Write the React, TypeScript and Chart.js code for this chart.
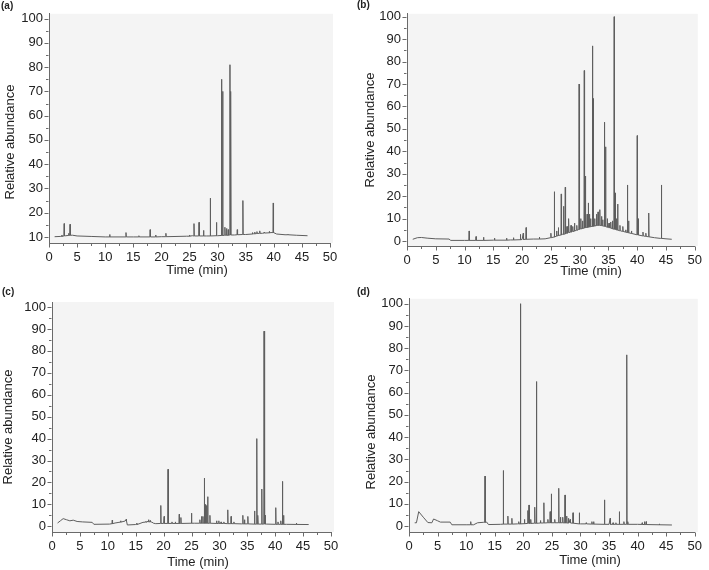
import React, { useEffect, useRef } from "react";
import { Chart, registerables } from "chart.js";

Chart.register(...registerables);

// ---------- shared ticks ----------
const xMajorTicks = [0, 5, 10, 15, 20, 25, 30, 35, 40, 45, 50];
const xMinorTicks = [2.5, 7.5, 12.5, 17.5, 22.5, 27.5, 32.5, 37.5, 42.5, 47.5];
const yMajorTicksA = [10, 20, 30, 40, 50, 60, 70, 80, 90, 100];
const yMinorTicksA = [15, 25, 35, 45, 55, 65, 75, 85, 95];
const yMajorTicks = [0, 10, 20, 30, 40, 50, 60, 70, 80, 90, 100];
const yMinorTicks = [5, 15, 25, 35, 45, 55, 65, 75, 85, 95];

const panelLabels = ["(a)", "(b)", "(c)", "(d)"];
const xTitle = "Time (min)";
const yTitle = "Relative abundance";

// ---------- panel (a) ----------
const aBaseTime = [1.0, 2.0, 3.0, 4.2, 5.0, 7.5, 10, 15, 20, 24.5, 25.5, 28, 30, 33, 35, 36.4, 38, 39.5, 40.5, 42, 44, 46];
const aBaseValue = [10.1, 10.2, 10.5, 10.7, 10.4, 10.2, 10.0, 10.0, 10.1, 10.3, 10.5, 10.4, 10.5, 10.8, 11.0, 11.3, 11.5, 11.8, 11.2, 10.9, 10.7, 10.5];
const aPeakTime = [2.3, 2.7, 3.5, 3.75, 10.8, 13.7, 16.0, 18.0, 19.0, 20.8, 25.0, 25.8, 26.7, 27.5, 28.7, 29.8, 30.7, 30.9, 31.3, 31.6, 31.9, 32.2, 32.35, 33.5, 34.5, 36.2, 36.6, 37.0, 37.5, 38.3, 39.2, 39.9, 42.5];
const aPeakTop = [10.8, 15.5, 11.5, 15.2, 11.0, 11.8, 10.5, 13.0, 10.8, 11.5, 10.8, 15.5, 16.0, 12.7, 26.0, 16.0, 75.0, 70.0, 14.0, 13.5, 13.0, 81.0, 70.0, 13.0, 25.0, 11.8, 12.0, 12.2, 12.5, 12.0, 12.3, 24.0, 11.2];
const aPeakFoot = [10.2, 10.4, 10.6, 10.7, 10.0, 10.0, 10.0, 10.0, 10.0, 10.1, 10.3, 10.4, 10.4, 10.4, 10.4, 10.5, 10.6, 10.6, 10.7, 10.7, 10.7, 10.8, 10.8, 10.9, 11.0, 11.2, 11.3, 11.4, 11.5, 11.6, 11.7, 11.8, 10.9];

// ---------- panel (b) ----------
const bBaseTime = [1.0, 1.8, 2.5, 3.5, 5, 7.3, 7.6, 10, 15, 18, 20, 22, 24, 25, 26, 27, 28, 29, 30, 31, 32, 33, 34, 35, 36, 37, 38, 39, 40, 41, 42, 43, 44, 45, 46];
const bBaseValue = [0.8, 1.5, 1.6, 1.3, 1.0, 0.9, 0.3, 0.3, 0.4, 0.5, 0.7, 0.9, 1.0, 1.5, 2.2, 3.0, 3.8, 4.5, 5.3, 6.0, 6.5, 7.0, 6.8, 6.0, 5.3, 4.6, 4.0, 3.4, 2.8, 2.3, 1.9, 1.5, 1.2, 1.0, 0.8];
const bPeakTime = [10.8, 12.0, 13.3, 15.2, 17.3, 18.5, 19.7, 20.2, 20.7, 23.0, 25.0, 25.6, 26.0, 26.3, 26.8, 27.2, 27.5, 27.8, 28.1, 28.5, 28.8, 29.1, 29.5, 29.9, 30.2, 30.5, 30.8, 31.0, 31.3, 31.5, 31.7, 31.9, 32.2, 32.35, 32.6, 32.9, 33.2, 33.5, 33.8, 34.0, 34.3, 34.5, 34.8, 35.1, 35.4, 35.7, 36.0, 36.2, 36.4, 36.6, 37.0, 37.5, 38.0, 38.3, 38.5, 39.0, 40.0, 40.2, 41.0, 41.5, 42.0, 44.2];
const bPeakTop = [4.5, 2.0, 1.7, 1.3, 1.3, 1.5, 3.0, 3.5, 6.0, 1.8, 3.5, 22.0, 4.5, 6.0, 21.0, 15.5, 24.0, 6.5, 10.0, 7.0, 6.5, 8.0, 7.0, 70.0, 10.0, 9.0, 76.0, 29.0, 12.0, 17.0, 12.0, 10.0, 87.0, 63.5, 10.0, 12.0, 13.0, 14.0, 11.0, 9.5, 53.0, 42.0, 10.0, 8.0, 8.5, 9.0, 100.0, 21.5, 10.0, 16.5, 7.0, 6.5, 5.0, 25.0, 9.0, 4.5, 47.0, 10.0, 4.0, 3.5, 12.5, 25.0];
const bPeakFoot = [0.3, 0.3, 0.3, 0.4, 0.4, 0.5, 0.6, 0.7, 0.8, 0.9, 1.5, 1.8, 2.2, 2.5, 2.7, 3.0, 3.2, 3.5, 3.8, 4.0, 4.3, 4.5, 4.8, 5.2, 5.4, 5.6, 5.8, 6.0, 6.1, 6.2, 6.3, 6.4, 6.5, 6.6, 6.7, 6.9, 7.0, 7.0, 6.9, 6.8, 6.6, 6.5, 6.2, 6.0, 5.8, 5.5, 5.3, 5.2, 5.0, 4.9, 4.6, 4.3, 4.0, 3.8, 3.7, 3.4, 2.8, 2.7, 2.3, 2.1, 1.9, 1.2];

// ---------- panel (c) ----------
const cBaseTime = [1.0, 1.5, 2.0, 2.6, 3.2, 3.8, 4.5, 5.5, 7.2, 7.5, 10.3, 11.3, 12.0, 13.1, 13.5, 15, 16.3, 17.0, 17.9, 18.2, 18.6, 20, 25.5, 30, 34, 38.5, 42, 46];
const cBaseValue = [1.5, 2.5, 3.5, 3.0, 2.5, 2.8, 2.2, 2.0, 1.8, 0.9, 1.0, 1.5, 1.8, 2.4, 0.6, 0.8, 1.8, 2.2, 1.9, 1.4, 1.2, 1.3, 1.4, 1.3, 1.1, 1.0, 0.9, 0.8];
const cPeakTime = [10.8, 12.3, 13.3, 15.2, 16.8, 17.3, 17.6, 19.5, 20.1, 20.8, 21.5, 22.1, 22.8, 23.1, 25.0, 26.5, 26.8, 27.05, 27.3, 27.5, 27.7, 27.9, 28.3, 29.5, 29.9, 30.3, 30.8, 31.5, 32.1, 32.6, 34.2, 34.5, 35.1, 36.3, 36.7, 36.9, 37.6, 38.0, 38.2, 40.1, 40.5, 41.0, 41.3, 41.5, 43.8];
const cPeakTop = [2.8, 2.5, 3.2, 1.5, 2.2, 3.0, 2.6, 9.5, 4.5, 26.0, 2.0, 2.0, 5.5, 4.0, 6.0, 3.0, 4.5, 4.5, 22.0, 10.0, 9.5, 13.5, 5.0, 2.5, 2.5, 2.0, 2.0, 7.5, 4.5, 2.0, 5.0, 3.0, 4.5, 7.0, 40.0, 5.0, 17.0, 89.0, 5.0, 8.5, 2.0, 2.5, 20.5, 5.0, 1.5];
const cPeakFoot = [1.2, 1.9, 2.4, 0.8, 1.9, 2.1, 2.0, 1.3, 1.3, 1.3, 1.3, 1.3, 1.3, 1.3, 1.4, 1.4, 1.4, 1.4, 1.4, 1.4, 1.4, 1.4, 1.4, 1.3, 1.3, 1.3, 1.3, 1.2, 1.2, 1.2, 1.1, 1.1, 1.1, 1.0, 1.0, 1.0, 1.0, 1.0, 1.0, 0.9, 0.9, 0.9, 0.9, 0.9, 0.85];

// ---------- panel (d) ----------
const dBaseTime = [1.0, 1.3, 1.7, 2.5, 3.3, 4.0, 4.3, 5.0, 5.5, 7.2, 7.5, 10.0, 11.3, 12.0, 13.0, 13.6, 13.9, 16, 19, 22.6, 25.2, 28, 30, 35, 40, 46];
const dBaseValue = [1.5, 1.5, 6.5, 4.0, 1.6, 1.5, 3.2, 2.4, 1.8, 1.8, 0.6, 0.6, 0.6, 1.5, 1.7, 1.8, 0.7, 0.8, 1.0, 1.3, 1.5, 1.4, 1.0, 0.8, 0.8, 0.5];
const dPeakTime = [10.8, 13.3, 16.5, 17.3, 18.0, 19.2, 19.5, 20.2, 20.8, 21.0, 21.3, 22.0, 22.3, 23.0, 23.6, 24.3, 24.7, 24.9, 25.5, 26.2, 26.5, 26.9, 27.3, 27.6, 27.9, 28.2, 28.7, 29.8, 31.0, 32.0, 32.3, 34.2, 35.2, 35.7, 36.2, 36.8, 37.6, 38.1, 38.3, 40.8, 41.2, 41.5, 43.8];
const dPeakTop = [2.0, 22.5, 25.0, 4.5, 3.5, 2.0, 100.0, 3.0, 7.0, 9.5, 3.0, 8.5, 65.0, 2.5, 10.5, 3.0, 6.5, 14.5, 3.0, 17.0, 4.0, 4.0, 14.0, 4.5, 3.5, 3.0, 6.0, 6.0, 1.5, 2.0, 2.0, 11.8, 3.5, 1.5, 1.5, 6.5, 2.0, 77.0, 2.0, 1.5, 2.0, 2.0, 1.0];
const dPeakFoot = [0.6, 1.7, 0.9, 0.9, 0.9, 1.0, 1.0, 1.1, 1.2, 1.2, 1.2, 1.3, 1.3, 1.4, 1.4, 1.5, 1.5, 1.5, 1.5, 1.5, 1.5, 1.5, 1.4, 1.4, 1.4, 1.4, 1.3, 1.0, 1.0, 0.9, 0.9, 0.8, 0.8, 0.8, 0.8, 0.8, 0.8, 0.8, 0.8, 0.75, 0.7, 0.7, 0.6];

const FONT = "'Liberation Sans', Arial, Helvetica, sans-serif";
const LINE = "#5e5e5e";
const AXIS = "#6a6a6a";
const TEXT = "#222222";
const BG = "#f4f4f4";

type Pt = { x: number; y: number };

function buildTrace(bt: number[], bv: number[], pt: number[], ph: number[], pf: number[]): Pt[] {
  const w = 0.05;
  const pts: Pt[] = [];
  for (let i = 0; i < bt.length; i++) {
    const inPeak = pt.some((t) => Math.abs(t - bt[i]) <= w);
    if (!inPeak) pts.push({ x: bt[i], y: bv[i] });
  }
  for (let i = 0; i < pt.length; i++) {
    pts.push({ x: pt[i] - w, y: pf[i] });
    pts.push({ x: pt[i], y: ph[i] });
    pts.push({ x: pt[i] + w, y: pf[i] });
  }
  pts.sort((a, b) => a.x - b.x);
  return pts;
}

type PanelCfg = {
  label: string;
  left: number;
  top: number;
  w: number;
  h: number;
  plotLeft: number;
  plotRight: number;
  plotTop: number;
  plotBottom: number;
  yMin: number;
  yMax: number;
  yMajor: number[];
  yMinor: number[];
  data: Pt[];
  labelPos: [number, number];
  yTitlePos: [number, number];
  xTitlePos: [number, number];
};

const panels: PanelCfg[] = [
  {
    label: panelLabels[0], left: 0, top: 0, w: 354, h: 285,
    plotLeft: 49, plotRight: 330, plotTop: 12, plotBottom: 243,
    yMin: 7.5, yMax: 102, yMajor: yMajorTicksA, yMinor: yMinorTicksA,
    data: buildTrace(aBaseTime, aBaseValue, aPeakTime, aPeakTop, aPeakFoot),
    labelPos: [1, 1], yTitlePos: [10, 142], xTitlePos: [197, 270],
  },
  {
    label: panelLabels[1], left: 354, top: 0, w: 355, h: 285,
    plotLeft: 53, plotRight: 342, plotTop: 13, plotBottom: 246,
    yMin: -2.2, yMax: 101.3, yMajor: yMajorTicks, yMinor: yMinorTicks,
    data: buildTrace(bBaseTime, bBaseValue, bPeakTime, bPeakTop, bPeakFoot),
    labelPos: [3, 0], yTitlePos: [16, 130], xTitlePos: [237, 271],
  },
  {
    label: panelLabels[2], left: 0, top: 285, w: 354, h: 285,
    plotLeft: 52, plotRight: 331, plotTop: 17, plotBottom: 247,
    yMin: -2.6, yMax: 102.3, yMajor: yMajorTicks, yMinor: yMinorTicks,
    data: buildTrace(cBaseTime, cBaseValue, cPeakTime, cPeakTop, cPeakFoot),
    labelPos: [2, 2], yTitlePos: [8, 142], xTitlePos: [198, 277],
  },
  {
    label: panelLabels[3], left: 354, top: 285, w: 355, h: 285,
    plotLeft: 55, plotRight: 343, plotTop: 10, plotBottom: 247,
    yMin: -2.65, yMax: 102.2, yMajor: yMajorTicks, yMinor: yMinorTicks,
    data: buildTrace(dBaseTime, dBaseValue, dPeakTime, dPeakTop, dPeakFoot),
    labelPos: [3, 2], yTitlePos: [17, 147], xTitlePos: [236, 275],
  },
];

function makeDecor(cfg: PanelCfg) {
  return {
    id: "panelDecor",
    beforeDraw(chart: any) {
      const { ctx, chartArea } = chart;
      ctx.save();
      ctx.fillStyle = BG;
      ctx.fillRect(chartArea.left, chartArea.top, chartArea.right - chartArea.left + 3, chartArea.bottom - chartArea.top);
      ctx.restore();
    },
    afterDraw(chart: any) {
      const { ctx, chartArea } = chart;
      const xs = chart.scales.x;
      const ys = chart.scales.y;
      ctx.save();
      ctx.strokeStyle = AXIS;
      ctx.lineWidth = 1;
      ctx.beginPath();
      const bottom = Math.round(chartArea.bottom) + 0.5;
      for (const v of xMajorTicks) {
        const px = Math.round(xs.getPixelForValue(v)) + 0.5;
        ctx.moveTo(px, bottom);
        ctx.lineTo(px, bottom + 4);
      }
      for (const v of xMinorTicks) {
        const px = Math.round(xs.getPixelForValue(v)) + 0.5;
        ctx.moveTo(px, bottom);
        ctx.lineTo(px, bottom + 2.5);
      }
      const left = Math.round(chartArea.left) - 0.5;
      for (const v of cfg.yMajor) {
        const py = Math.round(ys.getPixelForValue(v)) + 0.5;
        ctx.moveTo(left, py);
        ctx.lineTo(left - 4, py);
      }
      for (const v of cfg.yMinor) {
        const py = Math.round(ys.getPixelForValue(v)) + 0.5;
        ctx.moveTo(left, py);
        ctx.lineTo(left - 2.5, py);
      }
      ctx.stroke();

      ctx.fillStyle = TEXT;
      ctx.font = `bold 10px ${FONT}`;
      ctx.textAlign = "left";
      ctx.textBaseline = "top";
      ctx.fillText(cfg.label, cfg.labelPos[0], cfg.labelPos[1]);

      ctx.font = `13px ${FONT}`;
      ctx.textAlign = "center";
      ctx.textBaseline = "middle";
      ctx.fillText(xTitle, cfg.xTitlePos[0], cfg.xTitlePos[1]);

      ctx.translate(cfg.yTitlePos[0], cfg.yTitlePos[1]);
      ctx.rotate(-Math.PI / 2);
      ctx.fillText(yTitle, 0, 0);
      ctx.restore();
    },
  };
}

function Panel({ cfg }: { cfg: PanelCfg }) {
  const ref = useRef<HTMLCanvasElement | null>(null);
  useEffect(() => {
    if (!ref.current) return;
    const chart = new Chart(ref.current, {
      type: "line",
      data: {
        datasets: [
          {
            data: cfg.data,
            borderColor: LINE,
            borderWidth: 1,
            pointRadius: 0,
            tension: 0,
            fill: false,
          },
        ],
      },
      options: {
        animation: false,
        responsive: false,
        devicePixelRatio: 1,
        parsing: false,
        normalized: true,
        events: [],
        layout: {
          padding: { left: 0, top: cfg.plotTop, right: cfg.w - cfg.plotRight, bottom: 0 },
        },
        plugins: {
          legend: { display: false },
          tooltip: { enabled: false },
          title: { display: false },
        },
        scales: {
          x: {
            type: "linear",
            min: 0,
            max: 50,
            grid: { display: false, drawTicks: false },
            border: { display: true, color: AXIS, width: 1 },
            afterBuildTicks: (s: any) => {
              s.ticks = xMajorTicks.map((v) => ({ value: v }));
            },
            afterFit: (s: any) => {
              s.height = cfg.h - cfg.plotBottom;
            },
            ticks: {
              autoSkip: false,
              maxRotation: 0,
              padding: 7,
              color: TEXT,
              font: { family: FONT, size: 13 },
              callback: (v: any) => String(v),
            },
          },
          y: {
            type: "linear",
            min: cfg.yMin,
            max: cfg.yMax,
            grid: { display: false, drawTicks: false },
            border: { display: true, color: AXIS, width: 1 },
            afterBuildTicks: (s: any) => {
              s.ticks = cfg.yMajor.map((v) => ({ value: v }));
            },
            afterFit: (s: any) => {
              s.width = cfg.plotLeft;
            },
            ticks: {
              autoSkip: false,
              padding: 6,
              color: TEXT,
              font: { family: FONT, size: 13 },
              callback: (v: any) => String(v),
            },
          },
        },
      },
      plugins: [makeDecor(cfg)],
    } as any);
    return () => chart.destroy();
  }, [cfg]);
  return (
    <canvas
      ref={ref}
      width={cfg.w}
      height={cfg.h}
      style={{ position: "absolute", left: cfg.left, top: cfg.top, width: cfg.w, height: cfg.h }}
    />
  );
}

export default function App() {
  return (
    <div style={{ position: "absolute", left: 0, top: 0, width: 709, height: 570, background: "#ffffff" }}>
      {panels.map((p) => (
        <Panel key={p.label} cfg={p} />
      ))}
    </div>
  );
}
